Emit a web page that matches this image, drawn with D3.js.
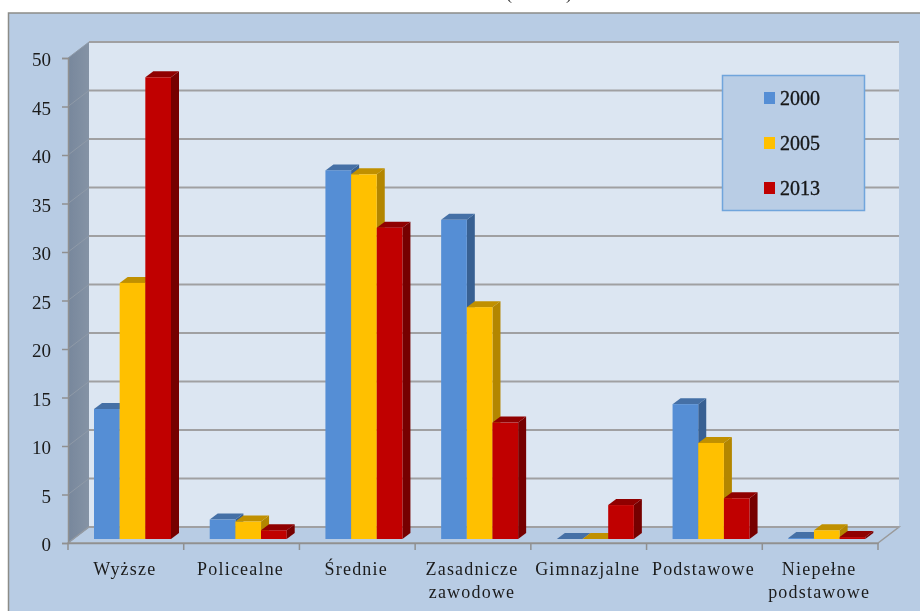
<!DOCTYPE html>
<html>
<head>
<meta charset="utf-8">
<script src="https://cdnjs.cloudflare.com/ajax/libs/d3/7.8.5/d3.min.js"></script>
<style>
  html, body { margin: 0; padding: 0; background: #fff; overflow: hidden; }
  svg { display: block; }
  text { font-family: "Liberation Serif", serif; fill: #1a1a1a; }
</style>
</head>
<body>
<div id="chart"></div>
<script>
// Data
const categories = ["Wyższe", "Policealne", "Średnie", "Zasadnicze zawodowe", "Gimnazjalne", "Podstawowe", "Niepełne podstawowe"];
const years = ["2000", "2005", "2013"];
const values2000 = [13.4, 2.0, 38.0, 32.9, 0, 13.9, 0.1];
const values2005 = [26.4, 1.8, 37.6, 23.9, 0, 9.9, 0.9];
const values2013 = [47.6, 0.9, 32.1, 12.0, 3.5, 4.2, 0.2];
const yTicks = [0, 5, 10, 15, 20, 25, 30, 35, 40, 45, 50];

const seriesValues = [values2000, values2005, values2013];
const colors = [
  { front: "#558ed5", top: "#4570a6", side: "#376092" },
  { front: "#ffc000", top: "#c09000", side: "#b38600" },
  { front: "#c00000", top: "#900000", side: "#760000" }
];

const width = 920, height = 611;
const depthX = 21, depthY = 16;      // floor / wall offset
const barDX = 8, barDY = 6;          // depth of the bars
const barLift = 4;                   // bars sit a bit behind the front edge

const svg = d3.select("#chart").append("svg")
  .attr("width", width)
  .attr("height", height);

const y = d3.scaleLinear().domain([0, 50]).range([543, 58]);
const x = d3.scaleBand().domain(categories).range([68, 878]);
const xBar = d3.scaleBand().domain(years).range([26, 103]);

const defs = svg.append("defs");
const wallGrad = defs.append("linearGradient").attr("id", "sideWall");
wallGrad.append("stop").attr("offset", "0%").attr("stop-color", "#77879c");
wallGrad.append("stop").attr("offset", "100%").attr("stop-color", "#8593a5");
defs.append("filter").attr("id", "soft")
  .append("feGaussianBlur").attr("stdDeviation", 0.35);

const root = svg.append("g").attr("filter", "url(#soft)");

// clipped title, only the bottom of the brackets is on the page
root.append("text")
  .attr("x", 539).attr("y", -1)
  .attr("text-anchor", "middle")
  .attr("font-size", 18)
  .style("white-space", "pre")
  .text("(            )");

// outer panel
root.append("rect")
  .attr("x", 8.5).attr("y", 13)
  .attr("width", 930).attr("height", 620)
  .attr("fill", "#b8cce4")
  .attr("stroke", "#8c8c88").attr("stroke-width", 1.5);

const x0 = x.range()[0], x1 = x.range()[1];

// back wall
root.append("rect")
  .attr("x", x0 + depthX).attr("y", y(50) - depthY)
  .attr("width", x1 - x0).attr("height", y(0) - y(50))
  .attr("fill", "#dce6f2");

// side wall
root.append("path")
  .attr("d", d3.line()([[x0, y(0)], [x0 + depthX, y(0) - depthY], [x0 + depthX, y(50) - depthY], [x0, y(50)]]) + "Z")
  .attr("fill", "url(#sideWall)");

// floor
root.append("path")
  .attr("d", d3.line()([[x0, y(0)], [x0 + depthX, y(0) - depthY], [x1 + depthX, y(0) - depthY], [x1, y(0)]]) + "Z")
  .attr("fill", "#b8cce4")
  .attr("stroke", "#9a9a9a").attr("stroke-width", 1.5);

// gridlines on wall + the diagonal bit on the side
const grid = root.append("g");
grid.selectAll(".grid")
  .data(yTicks)
  .join("line")
    .attr("class", "grid")
    .attr("x1", x0 + depthX).attr("x2", x1 + depthX)
    .attr("y1", d => y(d) - depthY).attr("y2", d => y(d) - depthY)
    .attr("stroke", "#a0a0a2").attr("stroke-width", 2);
grid.selectAll(".diag")
  .data(yTicks)
  .join("line")
    .attr("class", "diag")
    .attr("x1", x0).attr("x2", x0 + depthX)
    .attr("y1", d => y(d)).attr("y2", d => y(d) - depthY)
    .attr("stroke", "#8f9aa8").attr("stroke-width", 1);

// axes
const yAxis = root.append("g")
  .attr("transform", "translate(" + x0 + ",0)")
  .call(d3.axisLeft(y).tickValues(yTicks).tickSize(6).tickPadding(11));
yAxis.selectAll("text").attr("font-size", 19).attr("font-family", "Liberation Serif").attr("dy", "0.4em").attr("fill", "#222");

const xAxis = root.append("g")
  .attr("transform", "translate(0," + y(0) + ")")
  .call(d3.axisBottom(x).tickSize(0).tickFormat(""));
xAxis.selectAll(".tick").remove();
xAxis.selectAll(".cat-tick")
  .data(d3.range(categories.length + 1))
  .join("line")
    .attr("class", "cat-tick")
    .attr("x1", i => x0 + i * x.step()).attr("x2", i => x0 + i * x.step())
    .attr("y1", 0).attr("y2", 7);
root.selectAll(".domain, .cat-tick, .tick line")
  .attr("stroke", "#909090").attr("stroke-width", 1.5);

// bars, one group per series so the later ones cover the sides of the earlier
years.forEach(function (year, s) {
  const c = colors[s];
  const g = root.append("g").attr("class", "series-" + year);
  const data = categories.map((cat, i) => ({ cat: cat, value: seriesValues[s][i] }));

  const left = d => x(d.cat) + xBar(year);
  const right = d => left(d) + xBar.bandwidth();
  const top = d => y(d.value) - barLift;
  const base = y(0) - barLift;

  g.selectAll(".side").data(data).join("path")
    .attr("d", d => d3.line()([[right(d), base], [right(d) + barDX, base - barDY], [right(d) + barDX, top(d) - barDY], [right(d), top(d)]]) + "Z")
    .attr("fill", c.side);
  g.selectAll(".top").data(data).join("path")
    .attr("d", d => d3.line()([[left(d), top(d)], [left(d) + barDX, top(d) - barDY], [right(d) + barDX, top(d) - barDY], [right(d), top(d)]]) + "Z")
    .attr("fill", c.top);
  g.selectAll(".front").data(data).join("rect")
    .attr("x", left)
    .attr("y", top)
    .attr("width", xBar.bandwidth())
    .attr("height", d => base - top(d))
    .attr("fill", c.front);
});

// category labels, two lines where they wrap
root.selectAll(".cat")
  .data(categories)
  .join("text")
    .attr("class", "cat")
    .attr("font-size", 18)
    .attr("letter-spacing", 1.2)
    .attr("text-anchor", "middle")
    .each(function (d) {
      const words = d.split(" ");
      d3.select(this).selectAll("tspan").data(words).join("tspan")
        .attr("x", x(d) + x.bandwidth() / 2 - 1)
        .attr("y", (w, i) => 575 + i * 23)
        .text(w => w);
    });

// legend
const legend = root.append("g");
legend.append("rect")
  .attr("x", 722.5).attr("y", 75.5)
  .attr("width", 142).attr("height", 135)
  .attr("fill", "#b9cde5")
  .attr("stroke", "#6fa5dc").attr("stroke-width", 1.5);
const legendY = d3.scalePoint().domain(years).range([98, 188]);
legend.selectAll("rect.swatch").data(years).join("rect")
  .attr("class", "swatch")
  .attr("x", 764).attr("y", d => legendY(d) - 6)
  .attr("width", 11).attr("height", 12)
  .attr("fill", (d, i) => colors[i].front);
legend.selectAll("text").data(years).join("text")
  .attr("x", 780).attr("y", d => legendY(d) + 6.5)
  .attr("font-size", 20)
  .attr("fill", "#000")
  .attr("stroke", "#000").attr("stroke-width", 0.3)
  .text(d => d);
</script>
</body>
</html>
